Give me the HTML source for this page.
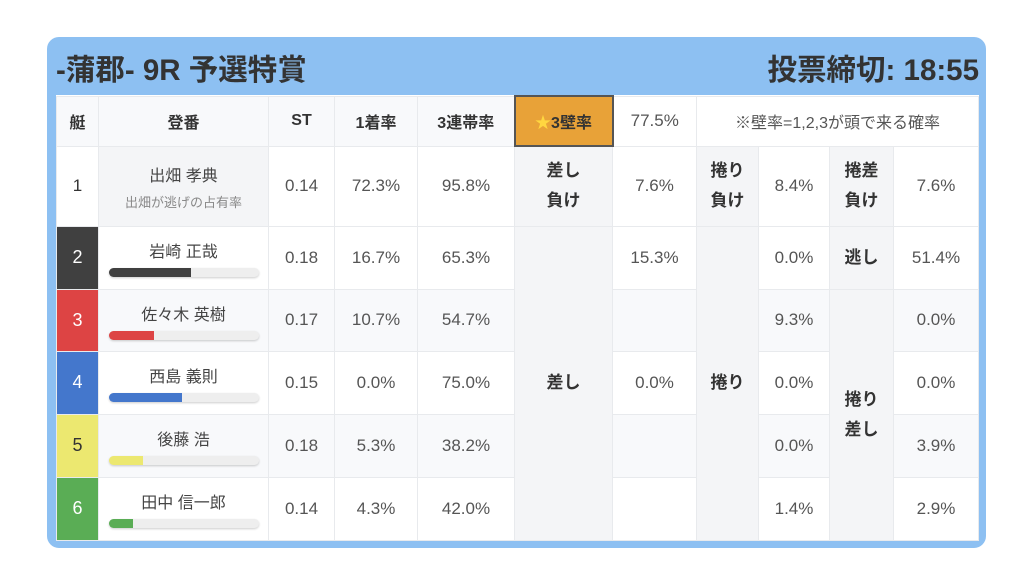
<!DOCTYPE html>
<html><head><meta charset="utf-8"><style>
html,body{margin:0;padding:0;background:#fff;width:1024px;height:583px;overflow:hidden}
body{font-family:"Liberation Sans","Noto Sans CJK JP",sans-serif;color:#444}
.card{position:absolute;left:47px;top:37px;width:933px;height:505px;border:3px solid #8dc0f2;border-radius:12px;background:#8dc0f2;overflow:hidden}
.hd{position:absolute;left:0;top:0;width:933px;height:58px}
.hd .l{position:absolute;left:6px;top:7px;font-size:29.5px;font-weight:bold;color:#333}
.hd .r{position:absolute;right:4px;top:7px;font-size:29.5px;font-weight:bold;color:#333}
table{position:absolute;left:6px;top:55px;border-collapse:collapse;table-layout:fixed;background:#fff}
td{border:1px solid #e8eaed;text-align:center;vertical-align:middle;font-size:17px;padding:0;color:#555}
tr.h td{height:48px;background:#f8f9fb;font-weight:bold;color:#333;font-size:16px}
.g{background:#f4f5f7}
.alt td{background:#f8f9fb}
.lb{font-weight:bold;color:#333;background:#f4f5f7!important;line-height:30px}
.nm{font-size:16px;color:#444}
.sub{font-size:13px;color:#888;margin-top:6px}
.bar{width:150px;height:9px;border-radius:5px;background:#eee;margin:6px auto 0 auto;overflow:hidden;box-shadow:0 1px 2px rgba(0,0,0,.2)}
.bar i{display:block;height:100%}
.bt{color:#fff;font-size:18px}
</style></head><body>
<div class="card">
<div class="hd"><div class="l">-蒲郡- 9R 予選特賞</div><div class="r">投票締切: 18:55</div></div>
<table>
<colgroup><col style="width:42px"><col style="width:170px"><col style="width:66px"><col style="width:83px"><col style="width:97px"><col style="width:98px"><col style="width:84px"><col style="width:62px"><col style="width:71px"><col style="width:64px"><col style="width:85px"></colgroup>
<tr class="h"><td>艇</td><td>登番</td><td>ST</td><td>1着率</td><td>3連帯率</td><td style="background:#e8a238;border:2px solid #555"><span style="color:#ffd640">★</span>3壁率</td><td style="background:#fff;font-weight:normal;color:#555;font-size:17px">77.5%</td><td colspan="4" style="background:#fff;font-weight:normal;color:#555">※壁率=1,2,3が頭で来る確率</td></tr>
<tr style="height:80px"><td style="color:#333">1</td><td class="g"><div class="nm">出畑 孝典</div><div class="sub">出畑が逃げの占有率</div></td><td>0.14</td><td>72.3%</td><td>95.8%</td><td class="lb">差し<br>負け</td><td>7.6%</td><td class="lb">捲り<br>負け</td><td>8.4%</td><td class="lb">捲差<br>負け</td><td>7.6%</td></tr>
<tr style="height:63px"><td class="bt" style="background:#404040">2</td><td><div class="nm">岩崎 正哉</div><div class="bar"><i style="width:55%;background:#404040"></i></div></td><td>0.18</td><td>16.7%</td><td>65.3%</td><td rowspan="5" class="lb">差し</td><td>15.3%</td><td rowspan="5" class="lb">捲り</td><td>0.0%</td><td class="lb">逃し</td><td>51.4%</td></tr>
<tr style="height:62px" class="alt"><td class="bt" style="background:#dd4444!important">3</td><td><div class="nm">佐々木 英樹</div><div class="bar"><i style="width:30%;background:#dd4444"></i></div></td><td>0.17</td><td>10.7%</td><td>54.7%</td><td></td><td>9.3%</td><td rowspan="4" class="lb">捲り<br>差し</td><td>0.0%</td></tr>
<tr style="height:63px"><td class="bt" style="background:#4477cc">4</td><td><div class="nm">西島 義則</div><div class="bar"><i style="width:49%;background:#4477cc"></i></div></td><td>0.15</td><td>0.0%</td><td>75.0%</td><td>0.0%</td><td>0.0%</td><td>0.0%</td></tr>
<tr style="height:63px" class="alt"><td style="background:#ece870!important;color:#333;font-size:18px">5</td><td><div class="nm">後藤 浩</div><div class="bar"><i style="width:23%;background:#ece870"></i></div></td><td>0.18</td><td>5.3%</td><td>38.2%</td><td></td><td>0.0%</td><td>3.9%</td></tr>
<tr style="height:63px"><td class="bt" style="background:#5aad55">6</td><td><div class="nm">田中 信一郎</div><div class="bar"><i style="width:16%;background:#5aad55"></i></div></td><td>0.14</td><td>4.3%</td><td>42.0%</td><td></td><td>1.4%</td><td>2.9%</td></tr>
</table>
</div>
</body></html>
